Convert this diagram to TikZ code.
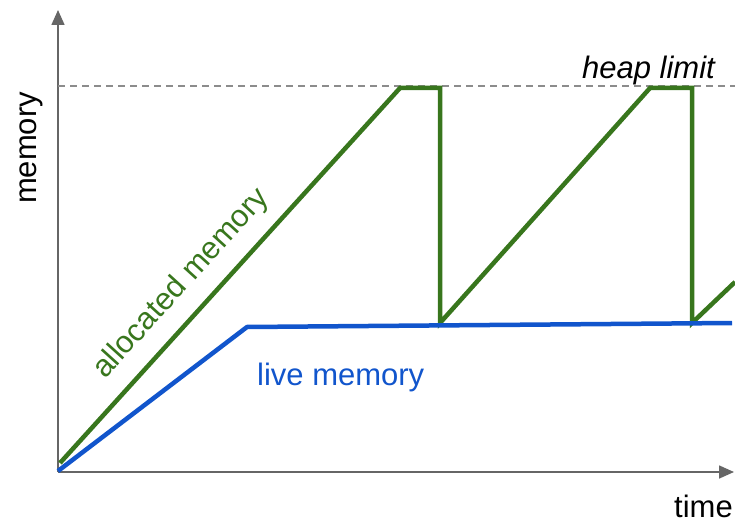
\documentclass[tikz,border=0pt]{standalone}
\usepackage{fontspec}
\setmainfont{Liberation Sans}
\usetikzlibrary{arrows.meta}
\definecolor{allocgreen}{HTML}{38761D}
\definecolor{liveblue}{HTML}{1155CC}
\definecolor{axisgray}{HTML}{666666}
\definecolor{limitgray}{HTML}{8C8C8C}
\begin{document}
\begin{tikzpicture}[x=1pt,y=-1pt,
  axis/.style={draw=axisgray, line width=1.6pt, -{Triangle[length=15pt,width=13pt]}},
  limitline/.style={draw=limitgray, line width=1.3pt, dash pattern=on 7pt off 5pt},
  allocline/.style={draw=allocgreen, line width=4.5pt},
  liveline/.style={draw=liveblue, line width=4.5pt},
  lbl/.style={inner sep=0pt, font=\fontsize{31}{37}\selectfont}]
\useasboundingbox (0,0) rectangle (735,521);

% axes
\coordinate (o) at (58,472);
\coordinate (ytop) at (58,10);
\coordinate (xend) at (734,472);
\draw[axis] (o) -- (ytop);
\draw[axis] (o) -- (xend);

% heap limit
\coordinate (hl0) at (58,86);
\coordinate (hl1) at (735,86);
\draw[limitline] (hl0) -- (hl1);

% allocated memory (sawtooth)
\coordinate (a0) at (60,463);
\coordinate (a1) at (400,88);
\coordinate (a2) at (440,88);
\coordinate (a3) at (440,323);
\coordinate (a4) at (650,88);
\coordinate (a5) at (692,88);
\coordinate (a6) at (692,323);
\coordinate (a7) at (735,282);
\draw[allocline] (a0) -- (a1) -- (a2) -- (a3) -- (a4) -- (a5) -- (a6) -- (a7);

% live memory
\coordinate (l0) at (58,471);
\coordinate (l1) at (247,327);
\coordinate (l2) at (732,323);
\draw[liveline] (l0) -- (l1) -- (l2);

% labels
\node[lbl, anchor=base, rotate=90] (ylabel) at (36,148) {memory};
\node[lbl, anchor=base east] (xlabel) at (733,517) {time};
\node[lbl, anchor=base east, font=\fontsize{31}{37}\selectfont\itshape] (limitlabel) at (715,79) {heap limit};
\node[lbl, anchor=base west, text=liveblue] (livelabel) at (257,385) {live memory};
\node[lbl, anchor=base west, rotate=47.8, text=allocgreen] (alloclabel) at (105,380) {allocated memory};
\end{tikzpicture}
\end{document}
